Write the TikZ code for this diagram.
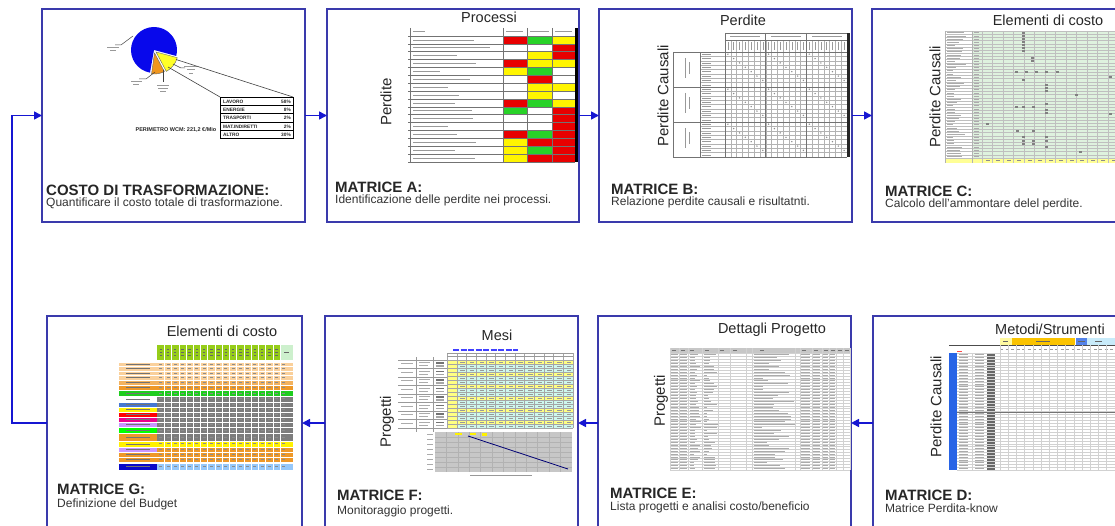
\documentclass[tikz,border=0pt]{standalone}
\usepackage{fontspec}
\setmainfont{Liberation Sans}
\usetikzlibrary{arrows.meta}
\definecolor{boxcol}{RGB}{58,58,172}
\definecolor{arrcol}{RGB}{22,22,210}
\definecolor{mR}{RGB}{232,0,0}
\definecolor{mG}{RGB}{40,210,40}
\definecolor{mY}{RGB}{255,245,0}
\definecolor{mW}{RGB}{255,255,255}
\definecolor{pieblue}{RGB}{8,8,235}
\definecolor{pieorange}{RGB}{240,150,30}
\definecolor{pieyellow}{RGB}{255,255,40}
\definecolor{cgreen}{RGB}{222,242,222}
\definecolor{cyel}{RGB}{255,255,150}
\definecolor{gpeach}{RGB}{250,208,155}
\definecolor{gorange}{RGB}{238,152,40}
\definecolor{ggreen}{RGB}{30,205,30}
\definecolor{ghead}{RGB}{150,205,25}
\definecolor{ghead2}{RGB}{205,240,205}
\definecolor{ggray}{RGB}{125,125,125}
\definecolor{glblue}{RGB}{150,200,250}
\definecolor{gdblue}{RGB}{10,10,200}
\definecolor{glab}{RGB}{70,120,210}
\definecolor{glilac}{RGB}{200,150,255}
\definecolor{fcyan}{RGB}{205,248,238}
\definecolor{fyel}{RGB}{255,255,130}
\definecolor{dgold}{RGB}{250,195,0}
\definecolor{dblue}{RGB}{40,100,230}
\definecolor{dlcyan}{RGB}{200,235,250}
\definecolor{dlyel}{RGB}{255,250,160}
\begin{document}
\begin{tikzpicture}[x=1pt,y=-1pt,
 box/.style={draw=boxcol, line width=1.6pt, inner sep=0pt, outer sep=0pt},
 arr/.style={draw=arrcol, line width=1.6pt, -{Triangle[length=8pt,width=8pt]}},
 ttl/.style={anchor=base west, inner sep=0pt, font=\fontsize{15}{15}\selectfont\bfseries, text=black!85},
 subt/.style={anchor=base west, inner sep=0pt, font=\fontsize{12}{12}\selectfont, text=black!80},
 hdr/.style={anchor=base, inner sep=0pt, font=\fontsize{14.5}{15}\selectfont, text=black!85},
 vlab/.style={rotate=90, inner sep=0pt, font=\fontsize{15}{15}\selectfont, text=black!85},
 tbl/.style={inner sep=0pt, font=\fontsize{4.8}{5}\selectfont\bfseries, text=black!85},
 scrib/.style={draw=black!40, line width=0.9pt},
 sc2/.style={draw=black!33, line width=0.7pt},
 gline/.style={draw=black!55, line width=0.5pt},
 bl/.style={draw=black!18, line width=0.3pt},
]
\useasboundingbox (0,0) rectangle (1115,526);
\clip (0,0) rectangle (1115,526);
\pgfmathsetseed{11}

% ---------------- boxes ----------------
\node[box, minimum width=263pt, minimum height=213pt] (b1) at (173.5,115.5) {};
\node[box, minimum width=252pt, minimum height=213pt] (bA) at (453,115.5) {};
\node[box, minimum width=253pt, minimum height=213pt] (bB) at (725.5,115.5) {};
\node[box, minimum width=253pt, minimum height=213pt] (bC) at (998.5,115.5) {};
\node[box, minimum width=255pt, minimum height=214pt] (bG) at (174.5,423) {};
\node[box, minimum width=253pt, minimum height=214pt] (bF) at (451.5,423) {};
\node[box, minimum width=253pt, minimum height=214pt] (bE) at (724.5,423) {};
\node[box, minimum width=253pt, minimum height=214pt] (bD) at (999.5,423) {};

% ---------------- connectors ----------------
\draw[arr] (b1.east) -- (bA.west);
\draw[arr] (bA.east) -- (bB.west);
\draw[arr] (bB.east) -- (bC.west);
\draw[arr] (bD.west) -- (bE.east);
\draw[arr] (bE.west) -- (bF.east);
\draw[arr] (bF.west) -- (bG.east);
\coordinate (fb) at (12,423);
\draw[arr] (bG.west) -- (fb) |- (b1.west);

% ---------------- captions ----------------
\node[ttl] (t1) at (46,196) {COSTO DI TRASFORMAZIONE:};
\node[subt] (s1) at (46,206.5) {Quantificare il costo totale di trasformazione.};
\node[ttl] (tA) at (335,193) {MATRICE A:};
\node[subt] (sA) at (335,204) {Identificazione delle perdite nei processi.};
\node[ttl] (tB) at (611,195) {MATRICE B:};
\node[subt] (sB) at (611,206) {Relazione perdite causali e risultatnti.};
\node[ttl] (tC) at (885,197) {MATRICE C:};
\node[subt] (sC) at (885,208) {Calcolo dell’ammontare delel perdite.};
\node[ttl] (tG) at (57,494) {MATRICE G:};
\node[subt] (sG) at (57,507) {Definizione del Budget};
\node[ttl] (tF) at (337,500) {MATRICE F:};
\node[subt] (sF) at (337,514) {Monitoraggio progetti.};
\node[ttl] (tE) at (610,498) {MATRICE E:};
\node[subt] (sE) at (610,510) {Lista progetti e analisi costo/beneficio};
\node[ttl] (tD) at (885,500) {MATRICE D:};
\node[subt] (sD) at (885,512) {Matrice Perdita-know};

% ---------------- axis headers ----------------
\node[hdr] (hA) at (489,23) {Processi};
\node[hdr] (hB) at (743,26) {Perdite};
\node[hdr] (hC) at (1048,26) {Elementi di costo};
\node[hdr] (hG) at (222,336) {Elementi di costo};
\node[hdr] (hF) at (497,340) {Mesi};
\node[hdr] (hE) at (772,333.5) {Dettagli Progetto};
\node[hdr] (hD) at (1050,334) {Metodi/Strumenti};
\node[vlab] (vA) at (386,102) {Perdite};
\node[vlab] (vB) at (663,96) {Perdite Causali};
\node[vlab] (vC) at (935,97) {Perdite Causali};
\node[vlab] (vF) at (387,422) {Progetti};
\node[vlab] (vE) at (661,401) {Progetti};
\node[vlab] (vD) at (936,407) {Perdite Causali};

% ---------------- box 1 : pie chart ----------------
\begin{scope}[shift={(154,50)}]
\fill[pieblue] (0,0) -- (100:23) arc[start angle=100,end angle=375,radius=23] -- cycle;
\end{scope}
\begin{scope}[shift={(156,52)}]
\filldraw[fill=pieyellow, draw=black!60, line width=0.4pt] (0,0) -- (15:22) arc[start angle=15,end angle=62,radius=22] -- cycle;
\end{scope}
\begin{scope}[shift={(154.5,53)}]
\filldraw[fill=pieorange, draw=black!60, line width=0.4pt] (0,0) -- (62:21) arc[start angle=62,end angle=98,radius=21] -- cycle;
\end{scope}
\draw[black!75, line width=0.5pt] (133,36) -- (121,45) -- (115,45);
\draw[scrib, line width=0.8pt] (107,47.5) -- (119,47.5);
\draw[scrib, line width=0.8pt] (110,50.5) -- (116,50.5);
\draw[black!75, line width=0.5pt] (155,72) -- (146,79) -- (139,79);
\draw[scrib, line width=0.8pt] (131,81.5) -- (142,81.5);
\draw[scrib, line width=0.8pt] (133,84.5) -- (139,84.5);
\draw[black!75, line width=0.5pt] (163,70) -- (163,82);
\draw[scrib, line width=0.8pt] (157,85) -- (169,85);
\draw[scrib, line width=0.8pt] (158,88) -- (168,88);
\draw[scrib, line width=0.8pt] (160,91) -- (166,91);
\draw[black!75, line width=0.5pt] (173,64) -- (181,68) -- (185,68);
\draw[scrib, line width=0.8pt] (184,66) -- (197,66);
\draw[scrib, line width=0.8pt] (187,69.5) -- (195,69.5);
\draw[scrib, line width=0.8pt] (189,73) -- (193,73);
\draw[black!75, line width=0.6pt] (176,59.5) -- (293,97);
\draw[black!75, line width=0.6pt] (168,67) -- (220,97);
\draw[black, line width=0.7pt] (220,97) rectangle (293,138.5);
\foreach \yy in {105.3,113.6,121.9,130.2} \draw[black, line width=0.5pt] (220,\yy) -- (293,\yy);
\foreach \n/\v [count=\i from 0] in {LAVORO/58\%, ENERGIE/8\%, TRASPORTI/2\%, MAT.INDIRETTI/2\%, ALTRO/30\%}{
  \node[tbl, anchor=base west] (tl\i) at (223,103.2+\i*8.3) {\n};
  \node[tbl, anchor=base east] (tv\i) at (291,103.2+\i*8.3) {\v};
}
\node[tbl, anchor=base east, font=\fontsize{5.5}{6}\selectfont\bfseries] (perim) at (216.5,132) {PERIMETRO WCM: 221,2 €/Mio};

% ---------------- box A : matrix ----------------
\foreach \a/\b/\c [count=\i from 0] in {R/G/Y,W/W/R,W/Y/R,R/Y/Y,Y/G/W,W/R/W,W/Y/Y,W/Y/W,R/G/Y,G/W/R,W/W/R,W/W/R,R/G/R,Y/R/R,Y/G/R,Y/R/R}{
  \fill[m\a] (503,36+\i*7.875) rectangle (527,43.875+\i*7.875);
  \fill[m\b] (527,36+\i*7.875) rectangle (552,43.875+\i*7.875);
  \fill[m\c] (552,36+\i*7.875) rectangle (575,43.875+\i*7.875);
  \pgfmathsetmacro\len{25+55*rnd}
  \draw[scrib, line width=0.7pt] (413,39.9+\i*7.875) -- ++(\len,0);
}
\foreach \i in {0,...,16} \draw[gline] (408,36+\i*7.875) -- (575,36+\i*7.875);
\foreach \x in {410,503,527,552} \draw[gline] (\x,28) -- (\x,162);
\fill[black] (575,28) rectangle (577.5,162);
\draw[scrib, line width=0.6pt] (413,31) -- (425,31);
\draw[scrib, line width=0.6pt] (506,31) -- (523,31);
\draw[scrib, line width=0.6pt] (530,31) -- (549,31);
\draw[scrib, line width=0.6pt] (555,31) -- (572,31);

% ---------------- box B : cross matrix ----------------
\foreach \i in {0,...,24} \draw[bl, draw=black!30] (700,52+\i*4.375) -- (847,52+\i*4.375);
\foreach \i in {0,...,21} \draw[bl, draw=black!30] (725+\i*5.81,40) -- (725+\i*5.81,157);
\foreach \y in {52,87,122,157} \draw[gline] (673,\y) -- (847,\y);
\foreach \x in {725,765.7,806.3} \draw[gline] (\x,33) -- (\x,157);
\draw[gline] (673,52) -- (673,157);
\draw[gline] (700,52) -- (700,157);
\draw[gline] (725,33) -- (847,33);
\draw[gline] (725,40) -- (847,40);
\fill[black!85] (847,33) rectangle (849.5,157);
\foreach \gi in {0,1,2}{
  \foreach \gj in {0,1,2}{
    \foreach \k in {0,...,6}{
      \fill[black!45] (727.9+\gj*40.67+\k*5.81, 54.2+\gi*35+\k*4.375) circle (0.8);
    }
  }
  \draw[scrib, line width=0.6pt] (685,58+\gi*35) -- ++(0,20);
  \draw[scrib, line width=0.6pt] (689,62+\gi*35) -- ++(0,12);
}
\foreach \x in {730,771,812} \draw[scrib, line width=0.6pt] (\x,36.5) -- ++(30,0);
\foreach \i in {0,...,20} \draw[scrib, line width=0.5pt] (727.9+\i*5.81,42) -- ++(0,8);
\foreach \i in {0,...,23} \draw[scrib, line width=0.6pt] (702,54.2+\i*4.375) -- ++(9,0);

% ---------------- box C : cost matrix ----------------
\fill[cgreen] (972,31) rectangle (1120,158);
\fill[cyel] (945,158) rectangle (1120,163);
\foreach \i in {0,...,40} \draw[bl, draw=black!25] (945,31+\i*3.175) -- (1120,31+\i*3.175);
\foreach \i in {0,...,13} \draw[bl, draw=black!25] (982+\i*10.5,31) -- (982+\i*10.5,163);
\draw[bl, draw=black!30] (945,31) -- (945,163);
\draw[bl, draw=black!30] (972,31) -- (972,163);
\foreach \i in {0,...,39}{
  \pgfmathsetmacro\len{5+15*rnd}
  \draw[sc2, line width=0.5pt] (947,32.6+\i*3.175) -- ++(\len,0);
  \draw[sc2, line width=0.5pt] (974,32.6+\i*3.175) -- ++(5,0);
}
\foreach \x/\y in {1023/33,1023/36,1023/39,1023/42,1023/45,1023/48,1023/51,1032/58,1032/61,1016/72,1026/72,1036/72,1046/72,1057/72,1110/77,1023/80,1046/85,1046/88,1046/91,1076/95,1016/107,1023/107,1033/107,1046/104,1046/110,1046/113,987/124,1017/131,1033/131,1046/137,1023/137,1023/141,1023/144,1033/141,1033/144,1046/141,1046/147,1080/152,1110/114}
  \fill[black!50] (\x-1.5,\y-0.6) rectangle (\x+1.5,\y+0.6);
\foreach \i in {0,...,12} \fill[black!45] (985.5+\i*10.5,160) rectangle (989.5+\i*10.5,161);

% ---------------- box G : budget ----------------
\fill[ghead] (157,345) rectangle (280,360);
\fill[ghead2] (280,345) rectangle (293,360);
\foreach \ya/\yb/\cl/\cr in {362/366.5/gpeach/gpeach, 366.5/371/gpeach/gpeach, 371/375.5/gpeach/gpeach, 375.5/380/gpeach/gpeach, 380/385/gorange!75/gorange!75, 385/390/gorange/gorange, 390/396/ggreen/ggreen, 396/401.7/white/ggray, 401.7/406.7/glab/ggray, 406.7/411.7/yellow/ggray, 411.7/416.7/red/ggray, 416.7/421.7/magenta/ggray, 421.7/426.7/glilac/ggray, 426.7/433.3/green/ggray, 433.3/441/gorange/ggray, 441/446.7/yellow/yellow, 446.7/451.7/glilac/gorange, 451.7/456.7/gorange/gorange, 456.7/462/gorange/gorange, 462.7/470/gdblue/glblue}{
  \fill[\cl] (119,\ya) rectangle (157,\yb);
  \fill[\cr] (157,\ya) rectangle (293,\yb);
  \draw[white, line width=0.3pt] (119,\ya) -- (293,\ya);
  \draw[black!55, line width=0.7pt] (126,\ya/2+\yb/2) -- (150,\ya/2+\yb/2);
  \foreach \k in {0,...,17} \fill[black!45] (159.3+\k*7.235,\ya/2+\yb/2-0.5) rectangle (162.3+\k*7.235,\ya/2+\yb/2+0.5);
}
\foreach \i in {1,...,17} \draw[white, line width=0.4pt] (157+\i*7.235,345) -- (157+\i*7.235,470);
\foreach \k in {0,...,16}{
  \draw[black!60, line width=0.5pt] (159.5+\k*7.235,349) -- ++(2.5,0);
  \draw[black!60, line width=0.5pt] (159.5+\k*7.235,352) -- ++(2.5,0);
  \draw[black!60, line width=0.5pt] (159.5+\k*7.235,355) -- ++(2.5,0);
}
\draw[black!60, line width=0.5pt] (284,352.5) -- (289,352.5);

% ---------------- box F : monitoring ----------------
\draw[blue!75, line width=1.3pt, dash pattern=on 6pt off 1.5pt] (453,350) -- (518,350);
\foreach \i in {0,...,8} \draw[bl, draw=black!40] (398,360+\i*8.5) -- (447,360+\i*8.5);
\foreach \x in {416,433} \draw[bl, draw=black!40] (\x,357) -- (\x,432);
\foreach \i in {0,...,7}{
  \draw[sc2] (401,363.5+\i*8.5) -- (413,363.5+\i*8.5);
  \draw[sc2] (419,362.5+\i*8.5) -- (430,362.5+\i*8.5);
  \draw[sc2] (419,365.5+\i*8.5) -- (428,365.5+\i*8.5);
  \fill[black!55] (436,362+\i*8.5) rectangle (444,363.5+\i*8.5);
  \fill[black!35] (436,365+\i*8.5) rectangle (444,366.5+\i*8.5);
}
\foreach \c [count=\i from 0] in {fyel,fcyan,fcyan,fyel,fcyan,fcyan,fyel,fcyan,fcyan,fyel,fcyan,fcyan,fyel,fcyan,fcyan,fyel,fcyan}{
  \fill[\c] (447,360+\i*4) rectangle (573,364+\i*4);
  \foreach \k in {0,...,12} \fill[black!40] (450.5+\k*9.69,361.6+\i*4) rectangle (455+\k*9.69,362.4+\i*4);
}
\fill[fyel] (447,360) rectangle (456.7,428);
\foreach \i in {0,...,17} \draw[bl, draw=black!35] (447,360+\i*4) -- (573,360+\i*4);
\foreach \i in {0,...,13} \draw[bl, draw=black!35] (447+\i*9.69,353) -- (447+\i*9.69,428);
\draw[bl, draw=black!40] (447,353) -- (573,353);
\draw[bl, draw=black!40] (447,356.5) -- (573,356.5);
\fill[black!22] (435,432) rectangle (572,472);
\foreach \i in {1,...,7} \draw[white!70!black, line width=0.3pt] (435,432+\i*5) -- (572,432+\i*5);
\foreach \i in {1,...,11} \draw[white!70!black, line width=0.3pt] (435+\i*11.4,432) -- (435+\i*11.4,472);
\draw[black!55!blue, line width=0.8pt] (468,436) -- (568,469);
\fill[yellow] (455,432.5) rectangle (462,435);
\fill[yellow] (470,432.5) rectangle (476,435);
\fill[yellow] (482,433) rectangle (487,435.5);
\foreach \i in {0,...,7} \draw[sc2, line width=0.5pt] (427,434+\i*5) -- (433,434+\i*5);
\draw[scrib, line width=0.7pt] (470,475.5) -- (532,475.5);

% ---------------- box E : project list ----------------
\fill[black!22] (670,348) rectangle (850,353);
\foreach \i in {0,...,40} \draw[bl] (670,353+\i*2.925) -- (850,353+\i*2.925);
\foreach \x in {670,679,688,702,718,730,746,752,795,800,812,822,829,836,843,850} \draw[bl] (\x,348) -- (\x,470);
\foreach \x in {672,681,690,705,720,733,760,802,814,824,831,838,845} \draw[black!55, line width=0.6pt] (\x,350.5) -- ++(4,0);
\foreach \i in {0,...,39}{
  \pgfmathsetmacro\la{4+8*rnd}
  \pgfmathsetmacro\lb{3+12*rnd}
  \pgfmathsetmacro\lc{8+34*rnd}
  \draw[sc2] (671,354.5+\i*2.925) -- (678,354.5+\i*2.925);
  \draw[sc2] (680,354.5+\i*2.925) -- (687,354.5+\i*2.925);
  \draw[sc2] (689.5,354.5+\i*2.925) -- ++(\la,0);
  \draw[sc2] (703.5,354.5+\i*2.925) -- ++(\lb,0);
  \draw[sc2] (753.5,354.5+\i*2.925) -- ++(\lc,0);
  \draw[sc2] (801,354.5+\i*2.925) -- (810,354.5+\i*2.925);
  \draw[sc2] (813,354.5+\i*2.925) -- (820,354.5+\i*2.925);
  \draw[sc2] (823,354.5+\i*2.925) -- (828,354.5+\i*2.925);
  \draw[sc2] (830,354.5+\i*2.925) -- (835,354.5+\i*2.925);
}

% ---------------- box D : perdita-know ----------------
\fill[dlyel] (1000,338) rectangle (1012,345);
\fill[dgold] (1012,338) rectangle (1075,345);
\fill[dblue!80] (1076,338) rectangle (1087,345);
\fill[dlcyan] (1087,338) rectangle (1115,345);
\draw[black!60, line width=0.6pt] (1003,341.5) -- (1008,341.5);
\draw[black!60, line width=0.6pt] (1036,341.5) -- (1050,341.5);
\draw[black!60, line width=0.6pt] (1078,341.5) -- (1085,341.5);
\draw[black!60, line width=0.6pt] (1095,341.5) -- (1102,341.5);
\draw[black!70, line width=0.5pt] (949,345.5) -- (1115,345.5);
\foreach \i in {0,...,20} \draw[black!40, line width=0.4pt] (1000+\i*5.5,349) -- ++(3,0);
\fill[red!70] (957,350.5) rectangle (962,352);
\fill[dblue] (949,353) rectangle (957,470);
\fill[black!60] (987,353) rectangle (995,470);
\foreach \i in {0,...,40} \draw[bl] (957,353+\i*2.925) -- (1115,353+\i*2.925);
\draw[bl] (972,353) -- (972,470);
\foreach \i in {0,...,14} \draw[bl] (1000+\i*8.2,345) -- (1000+\i*8.2,470);
\draw[black!55, line width=0.5pt] (957,412) -- (1115,412);
\foreach \i in {0,...,39}{
  \draw[sc2, line width=0.5pt] (959,354.5+\i*2.925) -- (968,354.5+\i*2.925);
  \draw[sc2, line width=0.5pt] (975,354.5+\i*2.925) -- (984,354.5+\i*2.925);
}
\end{tikzpicture}
\end{document}
